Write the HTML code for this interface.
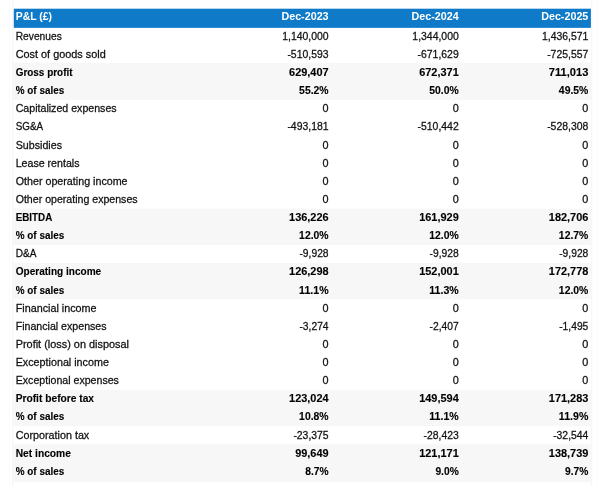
<!DOCTYPE html>
<html lang="en">
<head>
<meta charset="utf-8">
<title>P&amp;L</title>
<style>html,body{margin:0;padding:0;background:#fff}
body{width:600px;height:486px;overflow:hidden}
svg{display:block;font-family:"Liberation Sans",sans-serif;font-size:10.72px}
text{white-space:pre}
.n{fill:#111;stroke:#111;stroke-width:.26}
.b{fill:#000;font-weight:700;stroke:#000;stroke-width:.12}
.h{fill:#fff;font-weight:700}
.e{text-anchor:end}
</style>
</head>
<body>
<svg width="600" height="486" viewBox="0 0 600 486">
<rect x="12.3" y="0" width="0.9" height="486" fill="#f5f5f5"/>
<rect x="591.2" y="0" width="0.9" height="486" fill="#f5f5f5"/>
<rect x="9" y="0" width="0.8" height="486" fill="#fbfbfb"/>
<rect x="597.4" y="0" width="0.8" height="486" fill="#fbfbfb"/>
<rect x="13.8" y="8.7" width="577.10" height="19.15" fill="#0e7ac8"/>
<rect x="12.8" y="62.90" width="579.20" height="37.00" fill="#f7f7f7"/>
<rect x="12.8" y="208.65" width="579.20" height="36.25" fill="#f7f7f7"/>
<rect x="12.8" y="263.02" width="579.20" height="36.25" fill="#f7f7f7"/>
<rect x="12.8" y="389.90" width="579.20" height="36.25" fill="#f7f7f7"/>
<rect x="12.8" y="444.27" width="579.20" height="38.03" fill="#f7f7f7"/>
<g class="h">
<text x="15.7" y="19.90" textLength="36.31" lengthAdjust="spacingAndGlyphs">P&amp;L (£)</text>
<text class="e" x="328.6" y="19.90" textLength="47.17" lengthAdjust="spacingAndGlyphs">Dec-2023</text>
<text class="e" x="458.75" y="19.90" textLength="47.17" lengthAdjust="spacingAndGlyphs">Dec-2024</text>
<text class="e" x="588.35" y="19.90" textLength="47.17" lengthAdjust="spacingAndGlyphs">Dec-2025</text>
</g>
<g class="n">
<text x="15.7" y="39.85" textLength="46.08" lengthAdjust="spacingAndGlyphs">Revenues</text>
<text class="e" x="328.6" y="39.85" textLength="46.39" lengthAdjust="spacingAndGlyphs">1,140,000</text>
<text class="e" x="458.75" y="39.85" textLength="46.39" lengthAdjust="spacingAndGlyphs">1,344,000</text>
<text class="e" x="588.35" y="39.85" textLength="46.39" lengthAdjust="spacingAndGlyphs">1,436,571</text>
</g>
<g class="n">
<text x="15.7" y="57.98" textLength="90.08" lengthAdjust="spacingAndGlyphs">Cost of goods sold</text>
<text class="e" x="328.6" y="57.98" textLength="41.22" lengthAdjust="spacingAndGlyphs">-510,593</text>
<text class="e" x="458.75" y="57.98" textLength="41.22" lengthAdjust="spacingAndGlyphs">-671,629</text>
<text class="e" x="588.35" y="57.98" textLength="41.22" lengthAdjust="spacingAndGlyphs">-725,557</text>
</g>
<g class="b">
<text x="15.7" y="76.10" textLength="56.81" lengthAdjust="spacingAndGlyphs">Gross profit</text>
<text class="e" x="328.6" y="76.10" textLength="39.55" lengthAdjust="spacingAndGlyphs">629,407</text>
<text class="e" x="458.75" y="76.10" textLength="39.55" lengthAdjust="spacingAndGlyphs">672,371</text>
<text class="e" x="588.35" y="76.10" textLength="39.55" lengthAdjust="spacingAndGlyphs">711,013</text>
</g>
<g class="b">
<text x="15.7" y="94.22" textLength="48.52" lengthAdjust="spacingAndGlyphs">% of sales</text>
<text class="e" x="328.6" y="94.22" textLength="29.48" lengthAdjust="spacingAndGlyphs">55.2%</text>
<text class="e" x="458.75" y="94.22" textLength="29.48" lengthAdjust="spacingAndGlyphs">50.0%</text>
<text class="e" x="588.35" y="94.22" textLength="29.48" lengthAdjust="spacingAndGlyphs">49.5%</text>
</g>
<g class="n">
<text x="15.7" y="112.35" textLength="100.98" lengthAdjust="spacingAndGlyphs">Capitalized expenses</text>
<text class="e" x="328.6" y="112.35" textLength="6.03" lengthAdjust="spacingAndGlyphs">0</text>
<text class="e" x="458.75" y="112.35" textLength="6.03" lengthAdjust="spacingAndGlyphs">0</text>
<text class="e" x="588.35" y="112.35" textLength="6.03" lengthAdjust="spacingAndGlyphs">0</text>
</g>
<g class="n">
<text x="15.7" y="130.47" textLength="27.33" lengthAdjust="spacingAndGlyphs">SG&amp;A</text>
<text class="e" x="328.6" y="130.47" textLength="41.22" lengthAdjust="spacingAndGlyphs">-493,181</text>
<text class="e" x="458.75" y="130.47" textLength="41.22" lengthAdjust="spacingAndGlyphs">-510,442</text>
<text class="e" x="588.35" y="130.47" textLength="41.22" lengthAdjust="spacingAndGlyphs">-528,308</text>
</g>
<g class="n">
<text x="15.7" y="148.60" textLength="46.31" lengthAdjust="spacingAndGlyphs">Subsidies</text>
<text class="e" x="328.6" y="148.60" textLength="6.03" lengthAdjust="spacingAndGlyphs">0</text>
<text class="e" x="458.75" y="148.60" textLength="6.03" lengthAdjust="spacingAndGlyphs">0</text>
<text class="e" x="588.35" y="148.60" textLength="6.03" lengthAdjust="spacingAndGlyphs">0</text>
</g>
<g class="n">
<text x="15.7" y="166.72" textLength="63.78" lengthAdjust="spacingAndGlyphs">Lease rentals</text>
<text class="e" x="328.6" y="166.72" textLength="6.03" lengthAdjust="spacingAndGlyphs">0</text>
<text class="e" x="458.75" y="166.72" textLength="6.03" lengthAdjust="spacingAndGlyphs">0</text>
<text class="e" x="588.35" y="166.72" textLength="6.03" lengthAdjust="spacingAndGlyphs">0</text>
</g>
<g class="n">
<text x="15.7" y="184.85" textLength="111.88" lengthAdjust="spacingAndGlyphs">Other operating income</text>
<text class="e" x="328.6" y="184.85" textLength="6.03" lengthAdjust="spacingAndGlyphs">0</text>
<text class="e" x="458.75" y="184.85" textLength="6.03" lengthAdjust="spacingAndGlyphs">0</text>
<text class="e" x="588.35" y="184.85" textLength="6.03" lengthAdjust="spacingAndGlyphs">0</text>
</g>
<g class="n">
<text x="15.7" y="202.97" textLength="121.92" lengthAdjust="spacingAndGlyphs">Other operating expenses</text>
<text class="e" x="328.6" y="202.97" textLength="6.03" lengthAdjust="spacingAndGlyphs">0</text>
<text class="e" x="458.75" y="202.97" textLength="6.03" lengthAdjust="spacingAndGlyphs">0</text>
<text class="e" x="588.35" y="202.97" textLength="6.03" lengthAdjust="spacingAndGlyphs">0</text>
</g>
<g class="b">
<text x="15.7" y="221.10" textLength="36.56" lengthAdjust="spacingAndGlyphs">EBITDA</text>
<text class="e" x="328.6" y="221.10" textLength="39.55" lengthAdjust="spacingAndGlyphs">136,226</text>
<text class="e" x="458.75" y="221.10" textLength="39.55" lengthAdjust="spacingAndGlyphs">161,929</text>
<text class="e" x="588.35" y="221.10" textLength="39.55" lengthAdjust="spacingAndGlyphs">182,706</text>
</g>
<g class="b">
<text x="15.7" y="239.22" textLength="48.52" lengthAdjust="spacingAndGlyphs">% of sales</text>
<text class="e" x="328.6" y="239.22" textLength="29.48" lengthAdjust="spacingAndGlyphs">12.0%</text>
<text class="e" x="458.75" y="239.22" textLength="29.48" lengthAdjust="spacingAndGlyphs">12.0%</text>
<text class="e" x="588.35" y="239.22" textLength="29.48" lengthAdjust="spacingAndGlyphs">12.7%</text>
</g>
<g class="n">
<text x="15.7" y="257.35" textLength="20.70" lengthAdjust="spacingAndGlyphs">D&amp;A</text>
<text class="e" x="328.6" y="257.35" textLength="29.17" lengthAdjust="spacingAndGlyphs">-9,928</text>
<text class="e" x="458.75" y="257.35" textLength="29.17" lengthAdjust="spacingAndGlyphs">-9,928</text>
<text class="e" x="588.35" y="257.35" textLength="29.17" lengthAdjust="spacingAndGlyphs">-9,928</text>
</g>
<g class="b">
<text x="15.7" y="275.48" textLength="85.52" lengthAdjust="spacingAndGlyphs">Operating income</text>
<text class="e" x="328.6" y="275.48" textLength="39.55" lengthAdjust="spacingAndGlyphs">126,298</text>
<text class="e" x="458.75" y="275.48" textLength="39.55" lengthAdjust="spacingAndGlyphs">152,001</text>
<text class="e" x="588.35" y="275.48" textLength="39.55" lengthAdjust="spacingAndGlyphs">172,778</text>
</g>
<g class="b">
<text x="15.7" y="293.60" textLength="48.52" lengthAdjust="spacingAndGlyphs">% of sales</text>
<text class="e" x="328.6" y="293.60" textLength="29.48" lengthAdjust="spacingAndGlyphs">11.1%</text>
<text class="e" x="458.75" y="293.60" textLength="29.48" lengthAdjust="spacingAndGlyphs">11.3%</text>
<text class="e" x="588.35" y="293.60" textLength="29.48" lengthAdjust="spacingAndGlyphs">12.0%</text>
</g>
<g class="n">
<text x="15.7" y="311.73" textLength="80.86" lengthAdjust="spacingAndGlyphs">Financial income</text>
<text class="e" x="328.6" y="311.73" textLength="6.03" lengthAdjust="spacingAndGlyphs">0</text>
<text class="e" x="458.75" y="311.73" textLength="6.03" lengthAdjust="spacingAndGlyphs">0</text>
<text class="e" x="588.35" y="311.73" textLength="6.03" lengthAdjust="spacingAndGlyphs">0</text>
</g>
<g class="n">
<text x="15.7" y="329.85" textLength="90.89" lengthAdjust="spacingAndGlyphs">Financial expenses</text>
<text class="e" x="328.6" y="329.85" textLength="29.17" lengthAdjust="spacingAndGlyphs">-3,274</text>
<text class="e" x="458.75" y="329.85" textLength="29.17" lengthAdjust="spacingAndGlyphs">-2,407</text>
<text class="e" x="588.35" y="329.85" textLength="29.17" lengthAdjust="spacingAndGlyphs">-1,495</text>
</g>
<g class="n">
<text x="15.7" y="347.98" textLength="113.33" lengthAdjust="spacingAndGlyphs">Profit (loss) on disposal</text>
<text class="e" x="328.6" y="347.98" textLength="6.03" lengthAdjust="spacingAndGlyphs">0</text>
<text class="e" x="458.75" y="347.98" textLength="6.03" lengthAdjust="spacingAndGlyphs">0</text>
<text class="e" x="588.35" y="347.98" textLength="6.03" lengthAdjust="spacingAndGlyphs">0</text>
</g>
<g class="n">
<text x="15.7" y="366.10" textLength="93.20" lengthAdjust="spacingAndGlyphs">Exceptional income</text>
<text class="e" x="328.6" y="366.10" textLength="6.03" lengthAdjust="spacingAndGlyphs">0</text>
<text class="e" x="458.75" y="366.10" textLength="6.03" lengthAdjust="spacingAndGlyphs">0</text>
<text class="e" x="588.35" y="366.10" textLength="6.03" lengthAdjust="spacingAndGlyphs">0</text>
</g>
<g class="n">
<text x="15.7" y="384.23" textLength="103.23" lengthAdjust="spacingAndGlyphs">Exceptional expenses</text>
<text class="e" x="328.6" y="384.23" textLength="6.03" lengthAdjust="spacingAndGlyphs">0</text>
<text class="e" x="458.75" y="384.23" textLength="6.03" lengthAdjust="spacingAndGlyphs">0</text>
<text class="e" x="588.35" y="384.23" textLength="6.03" lengthAdjust="spacingAndGlyphs">0</text>
</g>
<g class="b">
<text x="15.7" y="402.35" textLength="78.36" lengthAdjust="spacingAndGlyphs">Profit before tax</text>
<text class="e" x="328.6" y="402.35" textLength="39.55" lengthAdjust="spacingAndGlyphs">123,024</text>
<text class="e" x="458.75" y="402.35" textLength="39.55" lengthAdjust="spacingAndGlyphs">149,594</text>
<text class="e" x="588.35" y="402.35" textLength="39.55" lengthAdjust="spacingAndGlyphs">171,283</text>
</g>
<g class="b">
<text x="15.7" y="420.48" textLength="48.52" lengthAdjust="spacingAndGlyphs">% of sales</text>
<text class="e" x="328.6" y="420.48" textLength="29.48" lengthAdjust="spacingAndGlyphs">10.8%</text>
<text class="e" x="458.75" y="420.48" textLength="29.48" lengthAdjust="spacingAndGlyphs">11.1%</text>
<text class="e" x="588.35" y="420.48" textLength="29.48" lengthAdjust="spacingAndGlyphs">11.9%</text>
</g>
<g class="n">
<text x="15.7" y="438.60" textLength="73.58" lengthAdjust="spacingAndGlyphs">Corporation tax</text>
<text class="e" x="328.6" y="438.60" textLength="35.20" lengthAdjust="spacingAndGlyphs">-23,375</text>
<text class="e" x="458.75" y="438.60" textLength="35.20" lengthAdjust="spacingAndGlyphs">-28,423</text>
<text class="e" x="588.35" y="438.60" textLength="35.20" lengthAdjust="spacingAndGlyphs">-32,544</text>
</g>
<g class="b">
<text x="15.7" y="456.73" textLength="55.20" lengthAdjust="spacingAndGlyphs">Net income</text>
<text class="e" x="328.6" y="456.73" textLength="33.39" lengthAdjust="spacingAndGlyphs">99,649</text>
<text class="e" x="458.75" y="456.73" textLength="39.55" lengthAdjust="spacingAndGlyphs">121,171</text>
<text class="e" x="588.35" y="456.73" textLength="39.55" lengthAdjust="spacingAndGlyphs">138,739</text>
</g>
<g class="b">
<text x="15.7" y="474.85" textLength="48.52" lengthAdjust="spacingAndGlyphs">% of sales</text>
<text class="e" x="328.6" y="474.85" textLength="23.34" lengthAdjust="spacingAndGlyphs">8.7%</text>
<text class="e" x="458.75" y="474.85" textLength="23.34" lengthAdjust="spacingAndGlyphs">9.0%</text>
<text class="e" x="588.35" y="474.85" textLength="23.34" lengthAdjust="spacingAndGlyphs">9.7%</text>
</g>
</svg>
</body>
</html>
